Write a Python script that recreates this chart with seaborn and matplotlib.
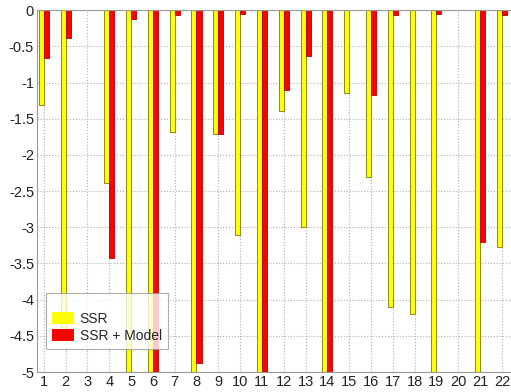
import numpy as np
import pandas as pd
import seaborn as sns
import matplotlib
matplotlib.use("Agg")
import matplotlib.pyplot as plt
from matplotlib.ticker import FormatStrFormatter, MultipleLocator

# values (bars clipped at -5)
cases = list(range(1, 23))
ssr = [-1.31, -4.5, 0.0, -2.39, -5.0, -5.0, -1.69, -5.0, -1.71, -3.1, -5.0,
       -1.39, -3.0, -5.0, -1.15, -2.3, -4.1, -4.2, -5.0, 0.0, -5.0, -3.27]
ssr_model = [-0.66, -0.38, 0.0, -3.43, -0.12, -5.0, -0.06, -4.87, -1.71, -0.05, -5.0,
             -1.1, -0.63, -5.0, 0.0, -1.17, -0.07, 0.0, -0.05, 0.0, -3.2, -0.06]
series = ["SSR", "SSR + Model"]

df = pd.DataFrame({
    "case": cases * 2,
    "value": ssr + ssr_model,
    "series": [series[0]] * len(cases) + [series[1]] * len(cases),
})

sns.set_style("white")
plt.rcParams["font.family"] = ["Liberation Sans", "DejaVu Sans"]

fig = plt.figure(figsize=(5.11, 3.92), dpi=100)
ax = fig.add_axes([0.072, 0.051, 0.926, 0.923])

sns.barplot(data=df, x="case", y="value", hue="series", native_scale=True,
            palette=["#ffff00", "#ff0000"], saturation=1, width=0.46, dodge=True,
            edgecolor="#7a7a00", linewidth=0.6, ax=ax, legend=True)
for patch in ax.patches[len(cases):2 * len(cases)]:
    patch.set_edgecolor("#b00000")

ax.set_xlim(0.68, 22.37)
ax.set_ylim(-5, 0)
ax.set_xticks(cases)
ax.set_xticklabels([str(c) for c in cases])
ax.yaxis.set_major_locator(MultipleLocator(0.5))
ax.yaxis.set_major_formatter(FormatStrFormatter("%g"))
ax.set_xlabel("")
ax.set_ylabel("")
ax.tick_params(axis="both", labelsize=10.5, colors="#222222", length=0, pad=2)

ax.grid(True, linestyle=":", color="#b0b0b0", linewidth=0.8)
ax.set_axisbelow(True)
for side in ["left", "bottom", "top"]:
    ax.spines[side].set_color("#999999")
    ax.spines[side].set_linewidth(0.8)
ax.spines["right"].set_visible(False)

leg = ax.legend(loc="lower left", bbox_to_anchor=(0.019, 0.064), borderaxespad=0,
                fontsize=10, title=" ", title_fontsize=8,
                frameon=True, fancybox=False, edgecolor="#999999",
                handlelength=1.6, handleheight=1.0, borderpad=0.45,
                labelspacing=0.2, handletextpad=0.4)
leg.get_frame().set_linewidth(0.8)
for h in leg.legend_handles:
    h.set_edgecolor("none")

fig.savefig("out.png", dpi=100)
